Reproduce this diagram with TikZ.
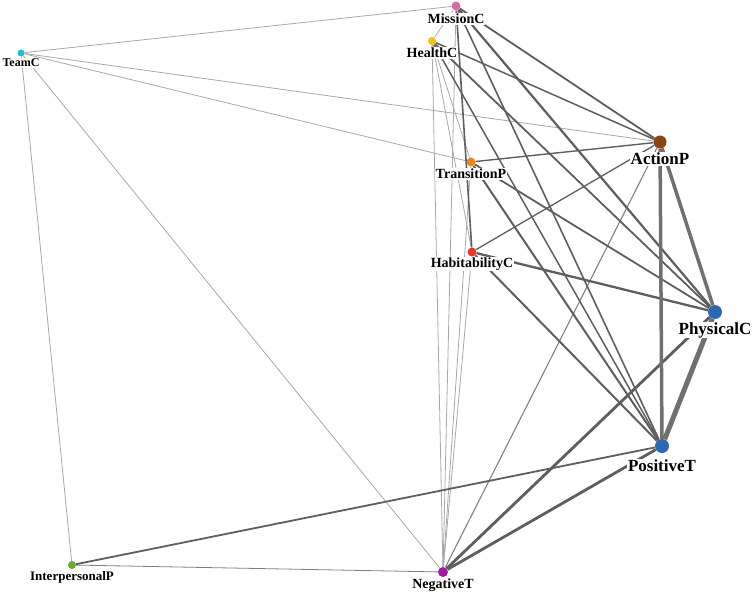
\documentclass[tikz,border=0pt]{standalone}
\usepackage{fontspec}
\setmainfont{Liberation Serif}
\usetikzlibrary{backgrounds}
\definecolor{cMission}{HTML}{D46CA2}
\definecolor{cHealth}{HTML}{F2C11A}
\definecolor{cTeam}{HTML}{1CC0CE}
\definecolor{cAction}{HTML}{8B4513}
\definecolor{cTrans}{HTML}{F0821E}
\definecolor{cHab}{HTML}{E03B2B}
\definecolor{cBlue}{HTML}{2B6AAE}
\definecolor{cInter}{HTML}{6BAA2C}
\definecolor{cNeg}{HTML}{A01E9E}
\definecolor{thinc}{HTML}{A8A8A8}
\definecolor{medc}{HTML}{5E5E5E}
\definecolor{thickc}{HTML}{707070}
\tikzset{
  dot/.style={circle, inner sep=0pt, draw=none, minimum size=#1},
  lab/.style={fill=white, inner sep=0.6pt, text=black, font=\fontsize{14}{14}\selectfont\bfseries},
  biglab/.style={lab, font=\fontsize{17}{17}\selectfont\bfseries},
  thinE/.style={draw=thinc, line width=0.8pt},
  midE/.style={draw=medc, line width=#1},
  thickE/.style={draw=thickc, line width=#1},
}
\begin{document}
\begin{tikzpicture}[x=1pt,y=-1pt]
\useasboundingbox (0,0) rectangle (754,596);
% nodes (dots)
\node[dot=9pt, fill=cMission] (m) at (456,6) {};
\node[dot=8pt, fill=cHealth] (h) at (432,41) {};
\node[dot=7pt, fill=cTeam] (t) at (21,53) {};
\node[dot=13pt, fill=cAction] (a) at (660,142) {};
\node[dot=9pt, fill=cTrans] (tr) at (471,162) {};
\node[dot=9pt, fill=cHab] (hb) at (472,252) {};
\node[dot=14pt, fill=cBlue] (pc) at (715,312) {};
\node[dot=14pt, fill=cBlue] (pt) at (662,446) {};
\node[dot=8pt, fill=cInter] (ip) at (72,565) {};
\node[dot=10pt, fill=cNeg] (n) at (443,572) {};
% labels
\node[lab] (lm) at (456,19) {MissionC};
\node[lab] (lh) at (432,53) {HealthC};
\node[lab, font=\fontsize{12}{12}\selectfont\bfseries] (lt) at (21,63) {TeamC};
\node[biglab] (la) at (660,159) {ActionP};
\node[lab] (ltr) at (471,174) {TransitionP};
\node[lab] (lhb) at (472,264) {HabitabilityC};
\node[biglab] (lpc) at (715,330) {PhysicalC};
\node[biglab] (lpt) at (662,466) {PositiveT};
\node[lab, font=\fontsize{13}{13}\selectfont\bfseries] (lip) at (72,577) {InterpersonalP};
\node[lab] (ln) at (443,585) {NegativeT};
\begin{scope}[on background layer]
% thin edges
\draw[thinE] (t) -- (m);
\draw[thinE] (t) -- (a);
\draw[thinE] (t) -- (tr);
\draw[thinE] (t) -- (ip);
\draw[thinE] (t) -- (n);
\draw[thinE] (m) -- (h);
\draw[thinE] (h) -- (n);
\draw[thinE] (m) -- (n);
\draw[thinE] (tr) -- (n);
\draw[thinE] (hb) -- (n);
\draw[thinE] (h) -- (tr);
\draw[thinE] (h) -- (hb);
\draw[thinE, draw=gray] (ip) -- (n);
\draw[midE=1.1pt, draw=gray] (n) -- (a);
% medium edges
\draw[midE=1.8pt] (m) -- (a);
\draw[midE=2.2pt] (m) -- (pc);
\draw[midE=1.6pt] (m) -- (pt);
\draw[midE=1.6pt] (m) -- (hb);
\draw[midE=1.5pt] (h) -- (a);
\draw[midE=1.8pt] (h) -- (pc);
\draw[midE=1.5pt] (h) -- (pt);
\draw[midE=1.4pt] (tr) -- (a);
\draw[midE=1.8pt] (tr) -- (pc);
\draw[midE=2pt] (tr) -- (pt);
\draw[midE=1.3pt] (hb) -- (a);
\draw[midE=2.3pt] (hb) -- (pc);
\draw[midE=2pt] (hb) -- (pt);
\draw[midE=1.8pt] (ip) -- (pt);
\draw[midE=2.8pt] (n) -- (pc);
\draw[midE=2.8pt] (n) -- (pt);
% thick edges
\draw[thickE=3.5pt] (a) -- (pt);
\draw[thickE=3.5pt] (a) -- (pc);
\draw[thickE=5pt] (pc) -- (pt);
\end{scope}
\end{tikzpicture}
\end{document}
